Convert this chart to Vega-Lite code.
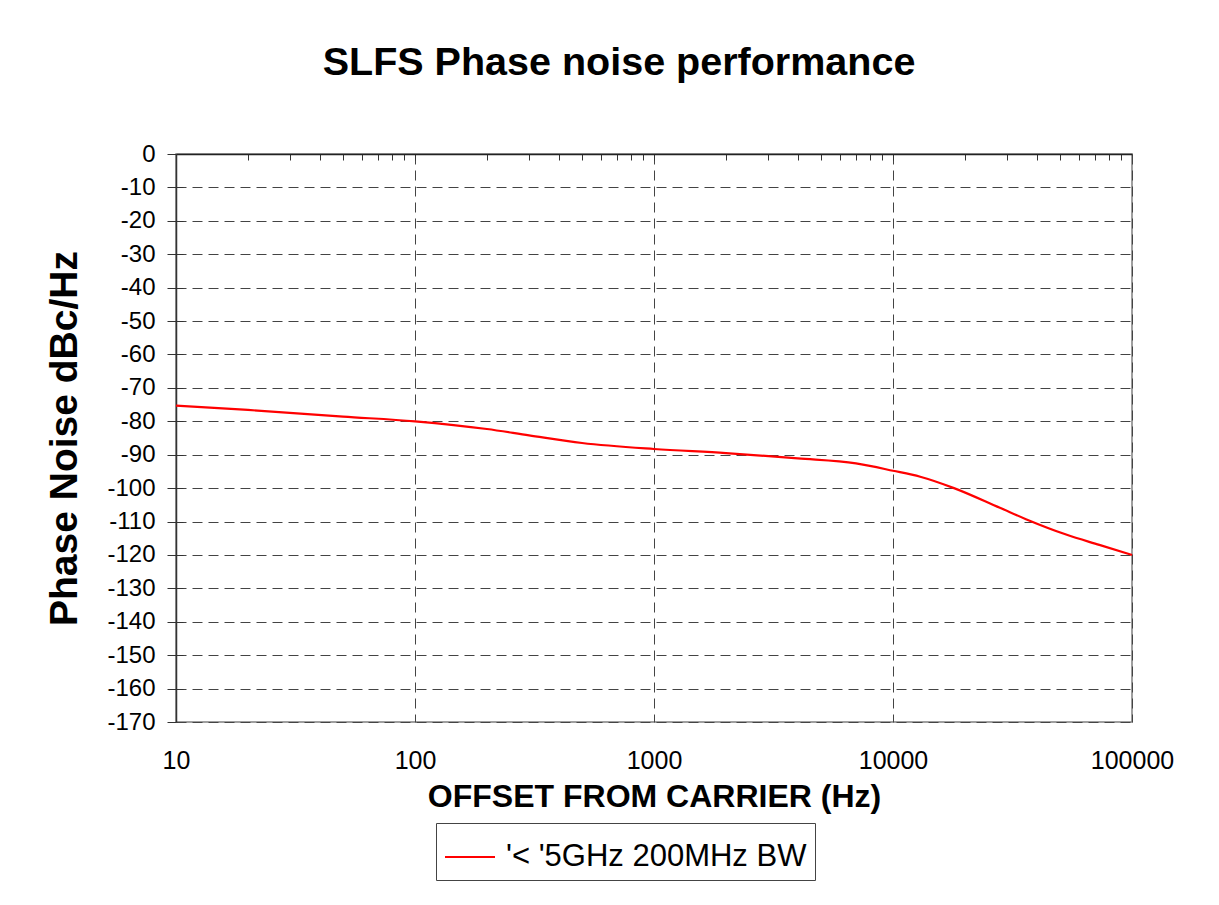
{
  "$schema": "https://vega.github.io/schema/vega-lite/v6.json",
  "width": 956,
  "height": 568,
  "autosize": {"type": "none"},
  "padding": {"left": 176, "top": 154, "right": 87, "bottom": 183},
  "background": "white",
  "title": {
    "text": "SLFS Phase noise performance",
    "font": "Liberation Sans",
    "fontSize": 39.5,
    "fontWeight": "bold",
    "color": "black",
    "anchor": "middle",
    "baseline": "alphabetic",
    "offset": 28,
    "dx": -35
  },
  "data": {
    "values": [
      {"offset_hz": 10, "phase_noise": -75.3, "series": "'< '5GHz 200MHz BW"},
      {"offset_hz": 20, "phase_noise": -76.6, "series": "'< '5GHz 200MHz BW"},
      {"offset_hz": 50, "phase_noise": -78.6, "series": "'< '5GHz 200MHz BW"},
      {"offset_hz": 100, "phase_noise": -80, "series": "'< '5GHz 200MHz BW"},
      {"offset_hz": 200, "phase_noise": -82.3, "series": "'< '5GHz 200MHz BW"},
      {"offset_hz": 300, "phase_noise": -84.2, "series": "'< '5GHz 200MHz BW"},
      {"offset_hz": 500, "phase_noise": -86.5, "series": "'< '5GHz 200MHz BW"},
      {"offset_hz": 1000, "phase_noise": -88.3, "series": "'< '5GHz 200MHz BW"},
      {"offset_hz": 2000, "phase_noise": -89.5, "series": "'< '5GHz 200MHz BW"},
      {"offset_hz": 4000, "phase_noise": -91.1, "series": "'< '5GHz 200MHz BW"},
      {"offset_hz": 7000, "phase_noise": -92.6, "series": "'< '5GHz 200MHz BW"},
      {"offset_hz": 10000, "phase_noise": -94.8, "series": "'< '5GHz 200MHz BW"},
      {"offset_hz": 13000, "phase_noise": -96.6, "series": "'< '5GHz 200MHz BW"},
      {"offset_hz": 18000, "phase_noise": -100, "series": "'< '5GHz 200MHz BW"},
      {"offset_hz": 28000, "phase_noise": -105.9, "series": "'< '5GHz 200MHz BW"},
      {"offset_hz": 36000, "phase_noise": -109.3, "series": "'< '5GHz 200MHz BW"},
      {"offset_hz": 53000, "phase_noise": -113.9, "series": "'< '5GHz 200MHz BW"},
      {"offset_hz": 73000, "phase_noise": -117, "series": "'< '5GHz 200MHz BW"},
      {"offset_hz": 100000, "phase_noise": -120, "series": "'< '5GHz 200MHz BW"}
    ]
  },
  "layer": [
    {
      "mark": {"type": "line", "strokeOpacity": 0, "interpolate": "monotone"},
      "encoding": {
        "x": {
          "field": "offset_hz",
          "type": "quantitative",
          "scale": {"type": "log", "domain": [10, 100000], "nice": false},
          "axis": {
            "orient": "bottom",
            "values": [10, 100, 1000, 10000, 100000],
            "labelExpr": "'' + datum.value",
            "labelFont": "Liberation Sans",
            "labelFontSize": 25,
            "labelColor": "black",
            "labelPadding": 26,
            "labelFlush": false,
            "labelOverlap": false,
            "ticks": false,
            "tickSize": 0,
            "domain": false,
            "grid": true,
            "gridDash": [10, 6],
            "gridColor": "#444444",
            "gridWidth": 1,
            "title": "OFFSET FROM CARRIER (Hz)",
            "titleFont": "Liberation Sans",
            "titleFontSize": 32,
            "titleFontWeight": "bold",
            "titleColor": "black",
            "titlePadding": 8
          }
        },
        "y": {
          "field": "phase_noise",
          "type": "quantitative",
          "scale": {"domain": [-170, 0], "nice": false, "zero": false},
          "axis": {
            "orient": "left",
            "values": [-170, -160, -150, -140, -130, -120, -110, -100, -90, -80, -70, -60, -50, -40, -30, -20, -10, 0],
            "labelExpr": "'' + datum.value",
            "labelFont": "Liberation Sans",
            "labelFontSize": 24,
            "labelColor": "black",
            "labelPadding": 12,
            "labelOverlap": false,
            "labelFlush": false,
            "tickSize": 9,
            "tickColor": "#333333",
            "domain": true,
            "domainColor": "#333333",
            "domainWidth": 1.5,
            "grid": true,
            "gridDash": [10, 6],
            "gridColor": "#444444",
            "gridWidth": 1,
            "title": "Phase Noise dBc/Hz",
            "titleFont": "Liberation Sans",
            "titleFontSize": 39,
            "titleFontWeight": "bold",
            "titleColor": "black",
            "titlePadding": 22
          }
        }
      }
    },
    {
      "mark": {"type": "line", "strokeWidth": 2.2, "interpolate": "monotone"},
      "encoding": {
        "x": {
          "field": "offset_hz",
          "type": "quantitative",
          "axis": {
            "orient": "top",
            "values": [20, 30, 40, 50, 60, 70, 80, 90, 100, 200, 300, 400, 500, 600, 700, 800, 900, 1000, 2000, 3000, 4000, 5000, 6000, 7000, 8000, 9000, 10000, 20000, 30000, 40000, 50000, 60000, 70000, 80000, 90000],
            "labels": false,
            "tickSize": -6,
            "tickColor": "#333333",
            "domain": true,
            "domainColor": "#222222",
            "domainWidth": 1.5,
            "grid": false,
            "title": null
          }
        },
        "y": {
          "field": "phase_noise",
          "type": "quantitative",
          "axis": {
            "orient": "left",
            "values": [-160, -150, -140, -130, -120, -110, -100, -90, -80, -70, -60, -50, -40, -30, -20, -10],
            "labels": false,
            "tickSize": -7,
            "tickColor": "#333333",
            "domain": false,
            "grid": false,
            "title": null
          }
        },
        "color": {
          "field": "series",
          "type": "nominal",
          "scale": {"range": ["#ff0000"]},
          "legend": {
            "orient": "none",
            "legendX": 260,
            "legendY": 669,
            "title": null,
            "symbolType": "stroke",
            "symbolSize": 2500,
            "symbolStrokeWidth": 2,
            "labelFont": "Liberation Sans",
            "labelFontSize": 31,
            "labelColor": "black",
            "labelOffset": 10,
            "labelLimit": 600,
            "strokeColor": "#444444",
            "fillColor": "white",
            "padding": 8
          }
        }
      }
    }
  ],
  "resolve": {"axis": {"x": "independent", "y": "independent"}},
  "config": {
    "view": {"stroke": "#808080", "strokeWidth": 1.5},
    "font": "Liberation Sans"
  }
}
